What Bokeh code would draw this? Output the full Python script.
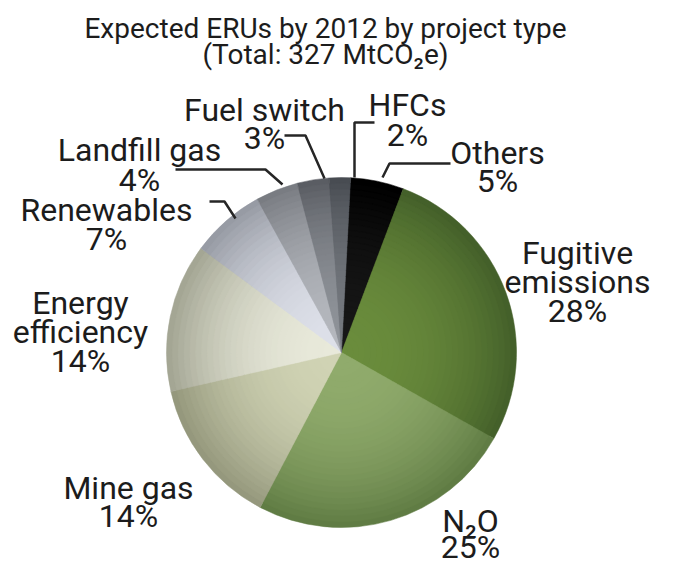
import math
from bokeh.plotting import figure
from bokeh.models import Range1d, ColumnDataSource
from bokeh.core.properties import value
from bokeh.embed import file_html
from bokeh.resources import INLINE

# ---------------- data ----------------
categories = ["Others", "Fugitive emissions", "N\u2082O", "Mine gas", "Energy efficiency",
              "Renewables", "Landfill gas", "Fuel switch", "HFCs"]
label_lines = [["Others"], ["Fugitive", "emissions"], ["N\u2082O"], ["Mine gas"],
               ["Energy", "efficiency"], ["Renewables"], ["Landfill gas"], ["Fuel switch"], ["HFCs"]]
shares = [5, 28, 25, 14, 14, 7, 4, 3, 2]
title_lines = ["Expected ERUs by 2012 by project type", "(Total: 327 MtCO\u2082e)"]

# ---------------- styles ----------------
inner_colors = ["#161616", "#6a8c3c", "#90ab6c", "#d0d3b4", "#e8e9da", "#dde0e9", "#b4b7bd", "#8e9298", "#74787e"]
outer_colors = ["#000000", "#44602a", "#607c44", "#95987d", "#a4a694", "#979ba4", "#797c82", "#5a5d63", "#484c52"]

W, H = 658, 568
FONT = "Roboto"


def px(X, Y):
    return X - 8, 576 - Y


cx, cy = px(349, 360)
R = 175
start_deg = 3.0  # clockwise from 12 o'clock

p = figure(width=W, height=H, output_backend="svg", toolbar_location=None,
           x_range=Range1d(0, W), y_range=Range1d(0, H), min_border=0,
           x_axis_type=None, y_axis_type=None,
           background_fill_color="white", border_fill_color="white")
p.outline_line_color = None
p.grid.visible = False


def hex2rgb(h):
    h = h.lstrip("#")
    return [int(h[i:i + 2], 16) for i in (0, 2, 4)]


def mix(a, b, t):
    ca, cb = hex2rgb(a), hex2rgb(b)
    return "#%02x%02x%02x" % tuple(int(round(ca[i] + (cb[i] - ca[i]) * t)) for i in range(3))


total = float(sum(shares))
starts, ends = [], []
acc = 0.0
for s in shares:
    a1 = start_deg + acc / total * 360.0
    acc += s
    a2 = start_deg + acc / total * 360.0
    starts.append(math.radians(90 - a2))
    ends.append(math.radians(90 - a1))

# pseudo radial gradient: stacked wedges from the rim inward
N = 30
xs, ys, rs, sa, ea, cols = [], [], [], [], [], []
for k in range(N):
    f = 1.0 - k / N
    r = R * f
    t = f ** 2.4
    for i in range(len(shares)):
        xs.append(cx); ys.append(cy); rs.append(r)
        sa.append(starts[i]); ea.append(ends[i])
        cols.append(mix(inner_colors[i], outer_colors[i], t))

src = ColumnDataSource(dict(x=xs, y=ys, r=rs, s=sa, e=ea, c=cols))
p.wedge(x="x", y="y", radius="r", start_angle="s", end_angle="e",
        fill_color="c", line_color="c", line_width=0.5, source=src)

# leader lines (layout, original pixel coords)
leaders = [
    [(390, 185), (397, 171), (458, 171)],
    [(362, 185), (362, 130), (382, 130)],
    [(332, 186), (313, 143), (292, 143)],
    [(290, 192), (273, 177), (183, 177)],
    [(243, 226), (232, 209), (217, 209)],
]
for pts in leaders:
    lx = [px(X, Y)[0] for X, Y in pts]
    ly = [px(X, Y)[1] for X, Y in pts]
    p.line(lx, ly, line_color="#262626", line_width=2.5)

# label layout: center x, first baseline, line step (original px)
label_pos = {
    "Others": (505, 160, 28),
    "Fugitive emissions": (585, 260, 29),
    "N\u2082O": (478, 528, 26),
    "Mine gas": (136, 495, 28),
    "Energy efficiency": (88, 310, 29),
    "Renewables": (114, 217, 29),
    "Landfill gas": (147, 157, 30),
    "Fuel switch": (272, 117, 28),
    "HFCs": (415, 112, 30),
}

tx, ty, tt = [], [], []
for cat, lines, s in zip(categories, label_lines, shares):
    X, Y, step = label_pos[cat]
    allines = lines + ["%d%%" % s]
    for j, ln in enumerate(allines):
        x0, y0 = px(X, Y + j * step)
        tx.append(x0); ty.append(y0); tt.append(ln)

p.text(x=tx, y=ty, text=tt, text_align="center", text_baseline="alphabetic",
       text_font=value(FONT), text_font_size="32px", text_color="#1c1c1c")

# title
t_x, t_y = [], []
for j, ln in enumerate(title_lines):
    x0, y0 = px(333, 36 + j * 26)
    t_x.append(x0); t_y.append(y0)
p.text(x=t_x, y=t_y, text=title_lines, text_align="center", text_baseline="alphabetic",
       text_font=value(FONT), text_font_size="28px", text_color="#1c1c1c")

open("out.html", "w").write(file_html(p, INLINE))
